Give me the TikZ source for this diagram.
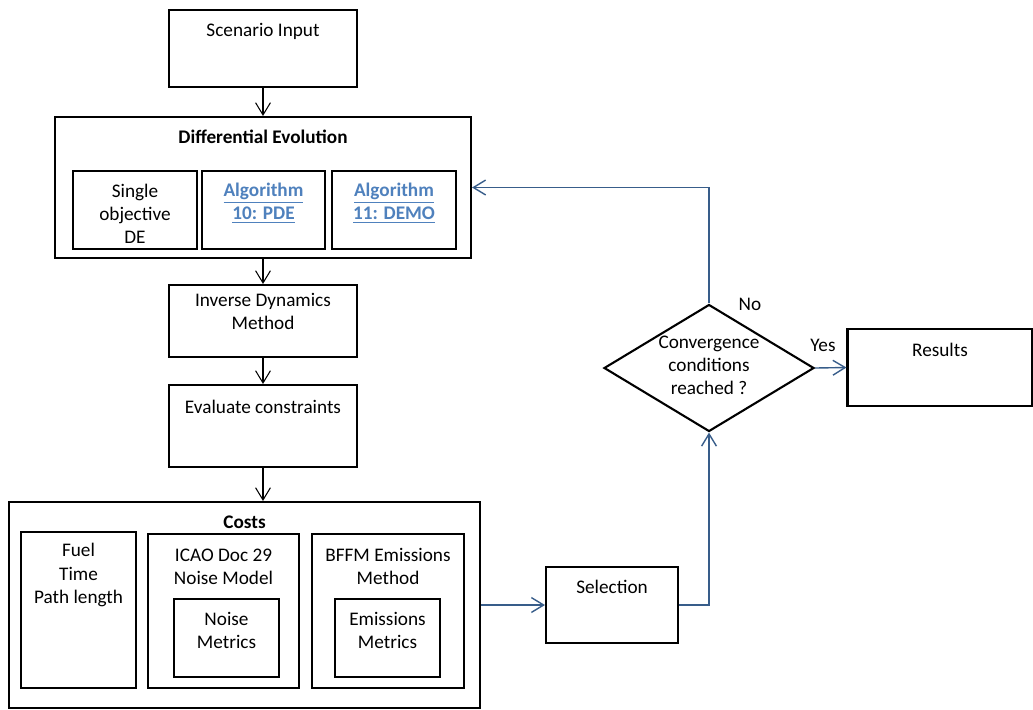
\documentclass[tikz,border=0pt]{standalone}
\usepackage{fontspec}
\setmainfont{Carlito}
\usepackage{tikz}
\usetikzlibrary{positioning, arrows.meta, shapes.geometric, calc}

\definecolor{linkblue}{RGB}{79,129,189}
\definecolor{flowblue}{RGB}{56,93,138}

\def\raster{0.572pt}

\tikzset{
    box/.style={draw=black, line width=1.2pt, fill=white, inner sep=0pt},
    txt/.style={align=center, inner sep=0pt, font=\fontsize{11}{13.2}\selectfont},
    flow/.style={draw=black, line width=0.6pt, -{Straight Barb[length=7pt,width=8.5pt]}},
    blueflow/.style={draw=flowblue, line width=0.8pt, -{Straight Barb[length=7pt,width=8.5pt]}},
    link/.style={text=linkblue, font=\fontsize{11}{13.2}\selectfont\bfseries}
}

\begin{document}
\begin{tikzpicture}[x=\raster, y=-\raster]
    \useasboundingbox (0,0) rectangle (1033,709);

    % outer boxes and inner boxes
    \foreach \name/\cx/\cy/\w/\h in {
        scen/263/48.5/188/77,
        de/263/187.5/416/141,
        single/135/210/124/78,
        pde/263.5/210/123/78,
        demo/394/210/124/78,
        idm/263/321/188/72,
        eval/263/426/188/82,
        costs/244.5/605/471/206,
        fuel/78.5/610/115/156,
        icao/223.5/611/151/154,
        noise/226.5/638/105/78,
        bffm/388/611/152/154,
        emis/387.5/638/105/78,
        sel/612/605/132/76,
        res/940/367.5/185/77}
    {
        \node[box, minimum width=\w*\raster, minimum height=\h*\raster] (\name) at (\cx,\cy) {};
    }

    % decision
    \node[box, diamond, minimum width=210*\raster, minimum height=127*\raster] (conv) at (709,368) {};

    % texts
    \foreach \name/\cx/\cy/\text in {
        scen/263/31/{Scenario Input},
        single/135/214/{Single\\objective\\DE},
        idm/263/311/{Inverse Dynamics\\Method},
        eval/263/407/{Evaluate constraints},
        fuel/78.5/575/{Fuel\\Time\\Path length},
        icao/223.5/566.5/{ICAO Doc 29\\Noise Model},
        noise/226.5/630/{Noise\\Metrics},
        bffm/388/566.5/{BFFM Emissions\\Method},
        emis/387.5/630/{Emissions\\Metrics},
        sel/612/587/{Selection},
        res/940/350/{Results},
        conv/709/365/{Convergence\\conditions\\reached ?}}
    {
        \node[txt] (t-\name) at (\cx,\cy) {\text};
    }

    % bold titles
    \node[txt, font=\fontsize{11}{13.2}\selectfont\bfseries] (t-de) at (263,137) {Differential Evolution};
    \node[txt, font=\fontsize{11}{13.2}\selectfont\bfseries] (t-costs) at (244.5,522) {Costs};

    % algorithm links
    \node[txt, link] (t-pde) at (263.5,203) {\underline{Algorithm}\\\underline{10: PDE}};
    \node[txt, link] (t-demo) at (394,203) {\underline{Algorithm}\\\underline{11: DEMO}};

    % branch labels
    \node[txt] (t-no) at (750,304) {No};
    \node[txt] (t-yes) at (823,345) {Yes};

    % main chain
    \foreach \a/\b in {scen/de, de/idm, idm/eval, eval/costs}
    {
        \draw[flow] (\a.south) -- (\a.south |- \b.north);
    }

    % blue connectors
    \draw[blueflow] (costs.east) -- (sel.west);
    \draw[blueflow] (sel.east) -| (conv.south);
    \draw[blueflow] (conv.east) -- (res.west);
    \draw[blueflow] (conv.north) |- (de.east);
\end{tikzpicture}
\end{document}
